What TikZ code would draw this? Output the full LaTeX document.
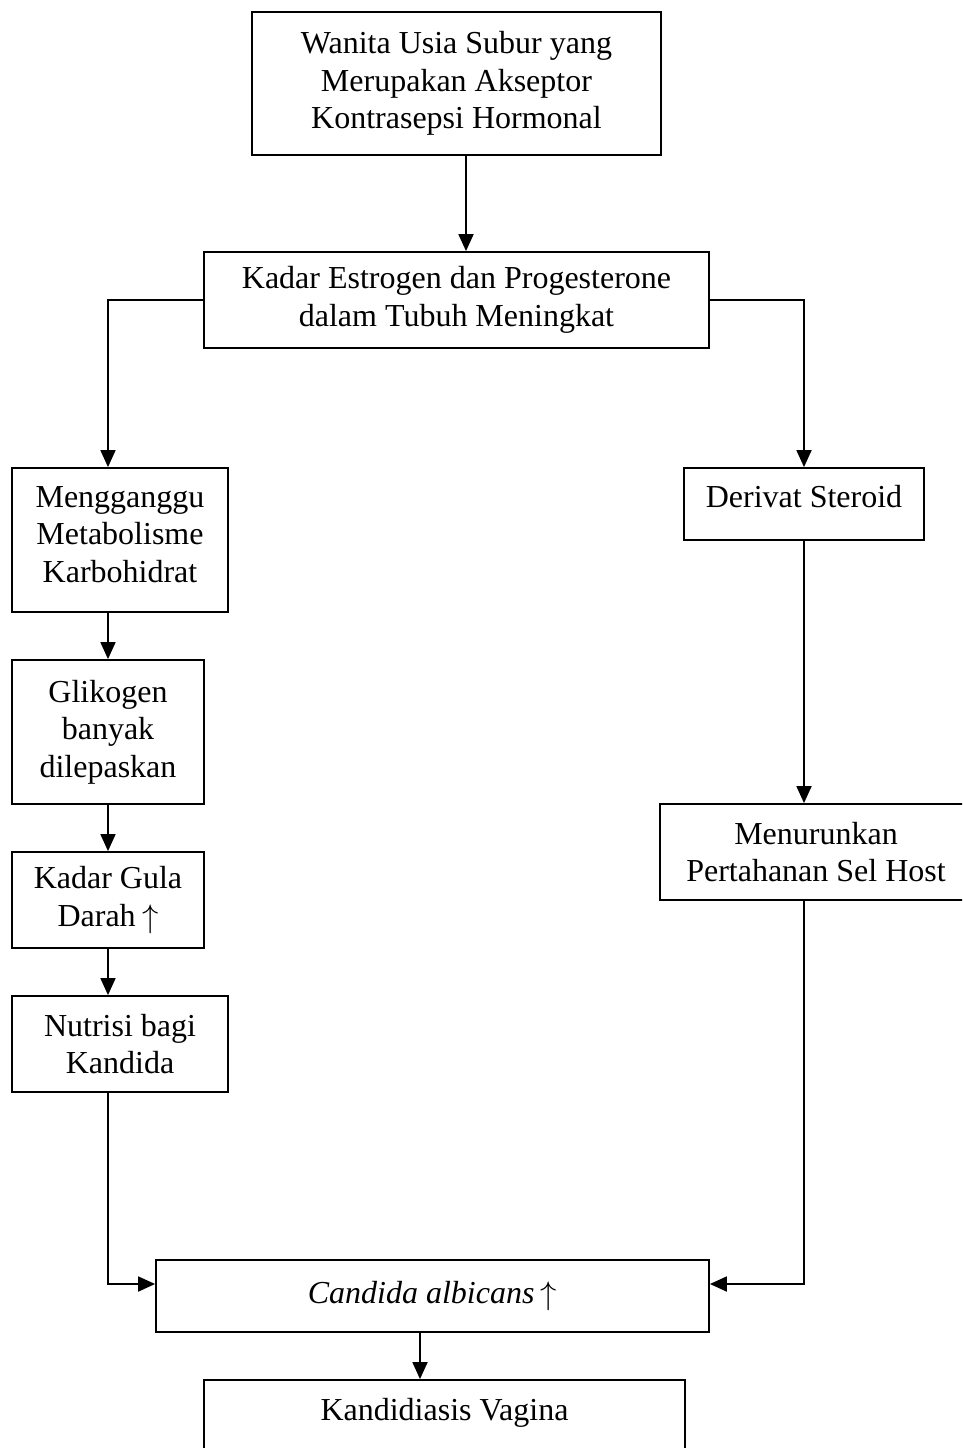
\documentclass[tikz,border=0pt]{standalone}
\usepackage{fontspec}
\usepackage{graphicx}
\setmainfont{Liberation Serif}
\usetikzlibrary{arrows.meta,calc}
\newcommand{\upar}{\hspace{0.2em}\raisebox{-1pt}{\resizebox*{!}{29pt}{$\uparrow$}}}
\begin{document}
\begin{tikzpicture}[x=1pt,y=-1pt,
  box/.style={draw,line width=1.8pt,align=center,inner sep=0pt,font=\fontsize{32}{37.5}\selectfont},
  arr/.style={line width=1.8pt,-{Triangle[length=17pt,width=15pt]}}]
\useasboundingbox (0,0) rectangle (962,1448);
\clip (0,0) rectangle (962,1448);
\node[box,minimum width=409pt,minimum height=143pt] (b1) at (456.5,83.5) {Wanita Usia Subur yang\\Merupakan Akseptor\\Kontrasepsi Hormonal};
\node[box,minimum width=505pt,minimum height=96pt] (b2) at (456.5,300) {Kadar Estrogen dan Progesterone\\dalam Tubuh Meningkat};
\node[box,minimum width=216pt,minimum height=144pt,text depth=11pt] (b3) at (120,540) {Mengganggu\\Metabolisme\\Karbohidrat};
\node[box,minimum width=240pt,minimum height=72pt,text depth=16pt] (ds) at (804,504) {Derivat Steroid};
\node[box,minimum width=192pt,minimum height=144pt] (gl) at (108,732) {Glikogen\\banyak\\dilepaskan};
\node[box,minimum width=192pt,minimum height=96pt] (gd) at (108,900) {Kadar Gula\\Darah\upar};
\node[box,minimum width=216pt,minimum height=96pt] (nk) at (120,1044) {Nutrisi bagi\\Kandida};
\node[box,minimum width=312pt,minimum height=96pt] (mp) at (816,852) {Menurunkan\\Pertahanan Sel Host};
\node[box,minimum width=553pt,minimum height=72pt] (ca) at (432.5,1296) {\textit{Candida albicans}\upar};
\node[box,minimum width=481pt,minimum height=96pt] (kv) at (444.5,1428) {Kandidiasis Vagina\\\mbox{}};
\draw[arr] ([xshift=9.5pt]b1.south) -- ([xshift=9.5pt]b1.south |- b2.north);
\draw[arr] (b2.west) -| ([xshift=-12pt]b3.north);
\draw[arr] (b2.east) -| (ds.north);
\draw[arr] (b3.south -| gl.north) -- (gl.north);
\draw[arr] (gl.south) -- (gd.north);
\draw[arr] (gd.south) -- (gd.south |- nk.north);
\coordinate (c1) at (108,1284);
\coordinate (c2) at (804,1284);
\draw[arr] (nk.south -| c1) -- (c1) -- (c1 -| ca.west);
\draw[arr] (mp.south -| c2) -- (c2) -- (c2 -| ca.east);
\draw[arr] ([xshift=-12.5pt]ca.south) -- ([xshift=-12.5pt]ca.south |- kv.north);
\draw[arr] (ds.south) -- (ds.south |- mp.north);
\end{tikzpicture}
\end{document}
